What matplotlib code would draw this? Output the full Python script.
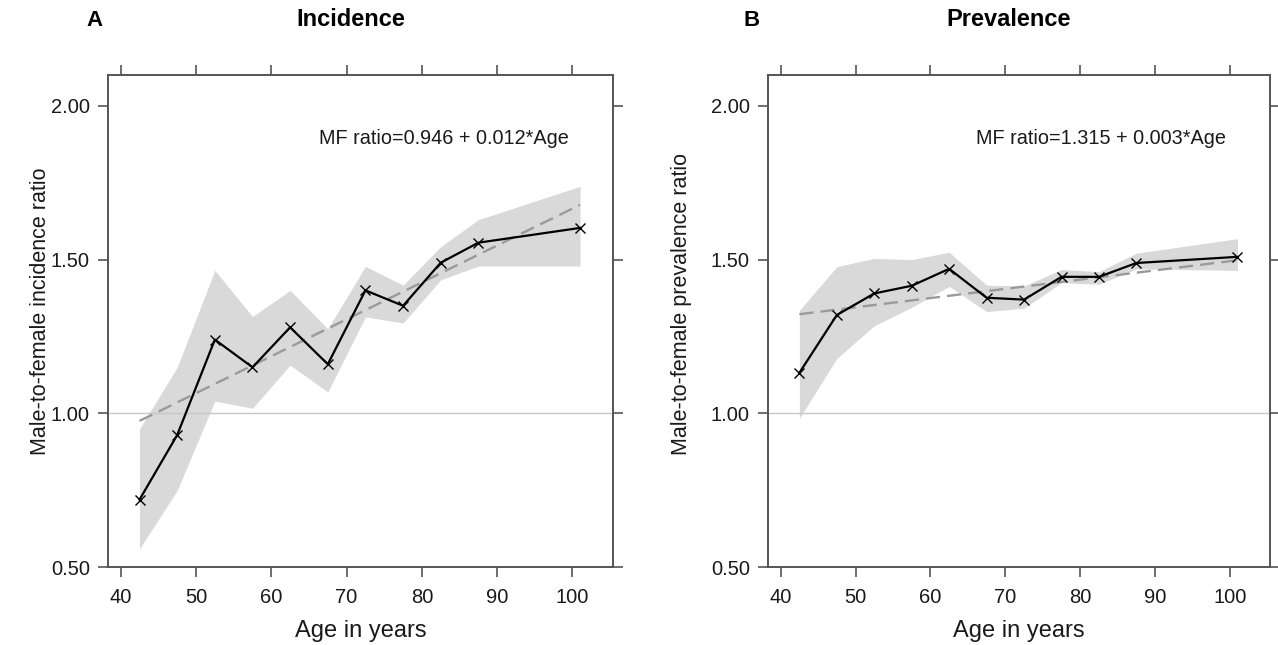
import matplotlib
matplotlib.use("Agg")
import matplotlib.pyplot as plt

plt.rcParams['font.family'] = ['Liberation Sans', 'DejaVu Sans']

# ---- data ----
ages = [42.5, 47.5, 52.5, 57.5, 62.5, 67.5, 72.5, 77.5, 82.5, 87.5, 101.0]

inc_ratio = [0.72, 0.93, 1.24, 1.15, 1.28, 1.16, 1.40, 1.35, 1.49, 1.555, 1.603]
inc_lower = [0.56, 0.75, 1.04, 1.017, 1.157, 1.07, 1.314, 1.294, 1.434, 1.479, 1.479]
inc_upper = [0.95, 1.15, 1.465, 1.315, 1.40, 1.275, 1.478, 1.417, 1.542, 1.63, 1.738]

prev_ratio = [1.132, 1.320, 1.390, 1.415, 1.470, 1.376, 1.370, 1.444, 1.444, 1.489, 1.509]
prev_lower = [0.984, 1.179, 1.285, 1.345, 1.413, 1.331, 1.342, 1.425, 1.420, 1.470, 1.465]
prev_upper = [1.335, 1.477, 1.504, 1.500, 1.524, 1.417, 1.414, 1.468, 1.461, 1.521, 1.568]

fit_x = [42.5, 101.0]
inc_fit = [0.976, 1.678]
prev_fit = [1.3225, 1.498]

inc_eq = "MF ratio=0.946 + 0.012*Age"
prev_eq = "MF ratio=1.315 + 0.003*Age"

xticks = [40, 50, 60, 70, 80, 90, 100]
yticks = [0.50, 1.00, 1.50, 2.00]
ytick_labels = ["0.50", "1.00", "1.50", "2.00"]

# ---- figure ----
W, H = 1278, 645
fig = plt.figure(figsize=(W / 100, H / 100), dpi=100)

box_top, box_bot = 75, 567.3
axA = fig.add_axes([108 / W, 1 - box_bot / H, (612.7 - 108) / W, (box_bot - box_top) / H])
axB = fig.add_axes([768 / W, 1 - box_bot / H, (1270 - 768) / W, (box_bot - box_top) / H])

frame_col = '#555555'
text_col = '#1a1a1a'


def draw(ax, ratio, lower, upper, fit, eq, ylabel, ylab_x, ylab_y):
    ax.fill_between(ages, lower, upper, color='#d9d9d9', linewidth=0, zorder=1)
    ax.axhline(1.0, color='#c8c8c8', lw=1.0, zorder=2)
    ax.plot(fit_x, fit, color='#9a9a9a', lw=1.7, linestyle=(0, (6, 3)), zorder=3)
    ax.plot(ages, ratio, color='black', lw=1.6, marker='x', markersize=7.5,
            markeredgewidth=1.0, zorder=4)
    ax.text(99.5, 1.895, eq, ha='right', va='center', fontsize=14.3, color=text_col)

    ax.set_xlim(38.31, 105.34)
    ax.set_ylim(0.5, 2.1)
    ax.set_xticks(xticks)
    ax.set_xticklabels([str(t) for t in xticks])
    ax.set_yticks(yticks)
    ax.set_yticklabels(ytick_labels)
    ax.tick_params(axis='both', direction='out', length=7, width=1.2, color=frame_col,
                   labelsize=14.5, labelcolor=text_col, pad=6,
                   top=True, right=True, labeltop=False, labelright=False)
    ax.tick_params(axis='x', pad=8)
    for s in ax.spines.values():
        s.set_color(frame_col)
        s.set_linewidth(1.4)
    ax.set_xlabel("Age in years", fontsize=17, color=text_col)
    ax.xaxis.set_label_coords(0.5, -0.107)
    ax.set_ylabel(ylabel, fontsize=15.5, color=text_col)
    ax.yaxis.set_label_coords(ylab_x, ylab_y)


draw(axA, inc_ratio, inc_lower, inc_upper, inc_fit, inc_eq,
     "Male-to-female incidence ratio", -0.113, 0.52)
draw(axB, prev_ratio, prev_lower, prev_upper, prev_fit, prev_eq,
     "Male-to-female prevalence ratio", -0.151, 0.535)

fig.text(94 / W, 1 - 20.5 / H, "A", ha='center', va='center', fontsize=16,
         fontweight='bold', color='black')
fig.text(351 / W, 1 - 20 / H, "Incidence", ha='center', va='center', fontsize=17,
         fontweight='bold', color='black')
fig.text(752 / W, 1 - 20.5 / H, "B", ha='center', va='center', fontsize=16,
         fontweight='bold', color='black')
fig.text(1009 / W, 1 - 20 / H, "Prevalence", ha='center', va='center', fontsize=17,
         fontweight='bold', color='black')

fig.savefig("out.png", dpi=100)
